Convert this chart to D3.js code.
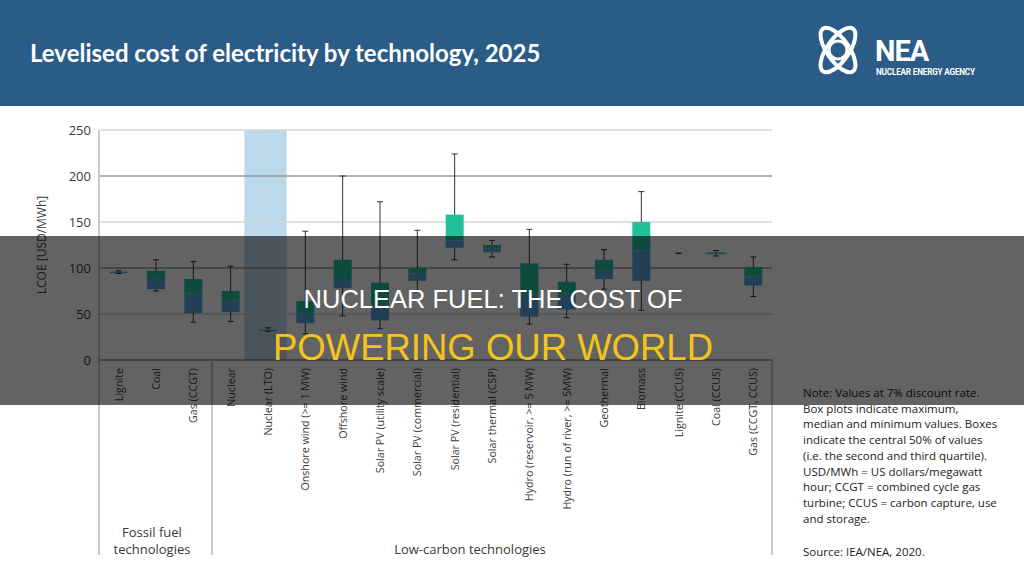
<!DOCTYPE html>
<html>
<head>
<meta charset="utf-8">
<script src="https://cdn.jsdelivr.net/npm/d3@7"></script>
<style>
  body { margin: 0; background: #ffffff; }
  svg { display: block; }
</style>
</head>
<body>
<div id="chart"></div>
<script>
// chart values
var categories = ["Lignite", "Coal", "Gas (CCGT)", "Nuclear", "Nuclear (LTO)",
    "Onshore wind (>= 1 MW)", "Offshore wind", "Solar PV (utility scale)",
    "Solar PV (commercial)", "Solar PV (residential)", "Solar thermal (CSP)",
    "Hydro (reservoir, >= 5 MW)", "Hydro (run of river, >= 5MW)", "Geothermal",
    "Biomass", "Lignite (CCUS)", "Coal (CCUS)", "Gas (CCGT, CCUS)"];

var maxValues    = [97, 109, 107, 102, 35, 140, 200, 172, 141, 224, 130, 142, 104, 120, 183, 116, 119, 112];
var q3Values     = [96, 97, 88, 75, 33, 64, 109, 84, 100, 158, 125, 105, 85, 109, 150, 116, 117, 101];
var medianValues = [95.5, 89, 72, 65, 32.5, 51, 88, 60, 94, 130, 121, 71, 72, 97, 119, 116, 116, 91];
var q1Values     = [95, 77, 51, 52, 32, 40, 78, 43, 86, 122, 117, 47, 55, 88, 86, 116, 115, 81];
var minValues    = [94, 75, 41, 42, 31, 28.5, 48, 34, 74, 109, 112, 39, 46, 77, 54, 116, 113, 69];

var yTicks = [0, 50, 100, 150, 200, 250];
var groups = [
    { name: ["Fossil fuel", "technologies"], first: "Lignite", last: "Gas (CCGT)" },
    { name: ["Low-carbon technologies"], first: "Nuclear", last: "Gas (CCGT, CCUS)" }
];
var highlighted = "Nuclear (LTO)";

var noteLines = ["Note: Values at 7% discount rate.",
    "Box plots indicate maximum,",
    "median and minimum values. Boxes",
    "indicate the central 50% of values",
    "(i.e. the second and third quartile).",
    "USD/MWh = US dollars/megawatt",
    "hour; CCGT = combined cycle gas",
    "turbine; CCUS = carbon capture, use",
    "and storage."];
var sourceLine = "Source: IEA/NEA, 2020.";

var titleText = "Levelised cost of electricity by technology, 2025";
var overlayLine1 = "NUCLEAR FUEL: THE COST OF";
var overlayLine2 = "POWERING OUR WORLD";

// Set SVG dimensions
var svgWidth = 1024;
var svgHeight = 575;

var margin = { top: 130, left: 100, right: 252, bottom: 215 };
var plotRight = svgWidth - margin.right;
var plotBottom = svgHeight - margin.bottom;
var labelBottom = 555;

var bodyFont = "'Open Sans', 'Noto Sans', sans-serif";

var svg = d3.select("#chart")
    .append("svg")
    .attr("width", svgWidth)
    .attr("height", svgHeight);

// header band
svg.append("rect")
    .attr("x", 0).attr("y", 0)
    .attr("width", svgWidth).attr("height", 106)
    .attr("fill", "#2b5b87");

svg.append("text")
    .attr("x", 30).attr("y", 62)
    .attr("font-family", "Lato, sans-serif")
    .attr("font-weight", "bold")
    .attr("font-size", "24px")
    .attr("fill", "#ffffff")
    .text(titleText);

// NEA logo
var logo = svg.append("g").attr("transform", "translate(838, 50)");
[-35, 35].forEach(function(a) {
    logo.append("ellipse")
        .attr("rx", 26).attr("ry", 11)
        .attr("transform", `rotate(${a + 90})`)
        .attr("fill", "none")
        .attr("stroke", "#ffffff")
        .attr("stroke-width", 4);
});
logo.append("circle")
    .attr("r", 9)
    .attr("fill", "none")
    .attr("stroke", "#ffffff")
    .attr("stroke-width", 3);
svg.append("text")
    .attr("x", 875).attr("y", 61)
    .attr("font-family", "Roboto, sans-serif")
    .attr("font-weight", "bold")
    .attr("font-size", "29px")
    .attr("letter-spacing", "-1px")
    .attr("fill", "#ffffff")
    .text("NEA");
svg.append("text")
    .attr("x", 876).attr("y", 75)
    .attr("font-family", "Roboto, sans-serif")
    .attr("font-weight", "bold")
    .attr("font-size", "8.2px")
    .attr("fill", "#ffffff")
    .attr("letter-spacing", "-0.2px")
    .text("NUCLEAR ENERGY AGENCY");

// scales
var xScale = d3.scaleBand()
    .domain(categories)
    .range([margin.left, plotRight])
    .padding(0);

var yScale = d3.scaleLinear()
    .domain([0, 250])
    .range([plotBottom, margin.top]);

var chartGroup = svg.append("g");

// highlighted band for Nuclear (LTO)
chartGroup.append("rect")
    .attr("x", xScale(highlighted) - 5)
    .attr("y", yScale(250))
    .attr("width", xScale.bandwidth() + 5)
    .attr("height", yScale(0) - yScale(250))
    .attr("fill", "#bcd9ec");

// gridlines
chartGroup.selectAll(".grid")
    .data(yTicks.filter(d => d > 0))
    .enter()
    .append("line")
    .attr("class", "grid")
    .attr("x1", margin.left)
    .attr("x2", plotRight)
    .attr("y1", d => yScale(d))
    .attr("y2", d => yScale(d))
    .attr("stroke", d => (d % 100 === 0) ? "#9a9a9a" : "#d4d4d4")
    .attr("stroke-width", 1.5);

// y axis
var yAxis = d3.axisLeft(yScale).tickValues(yTicks).tickSize(0).tickPadding(9);
var yAxisGroup = chartGroup.append("g")
    .attr("transform", `translate(${margin.left}, 0)`)
    .call(yAxis);
yAxisGroup.select(".domain").remove();
yAxisGroup.selectAll("text")
    .attr("font-family", bodyFont)
    .attr("font-size", "13px")
    .attr("fill", "#3a3a3a");

chartGroup.append("text")
    .attr("transform", "rotate(-90)")
    .attr("x", -245)
    .attr("y", 46)
    .attr("text-anchor", "middle")
    .attr("font-family", bodyFont)
    .attr("font-size", "12px")
    .attr("fill", "#3a3a3a")
    .text("LCOE [USD/MWh]");

// frame lines: left axis, zero line, group dividers
chartGroup.append("line")
    .attr("x1", margin.left - 1).attr("x2", margin.left - 1)
    .attr("y1", yScale(250)).attr("y2", labelBottom)
    .attr("stroke", "#c8c8c8").attr("stroke-width", 2);

chartGroup.append("line")
    .attr("x1", margin.left).attr("x2", plotRight)
    .attr("y1", yScale(0)).attr("y2", yScale(0))
    .attr("stroke", "#8a8a8a").attr("stroke-width", 1.5);

chartGroup.selectAll(".divider")
    .data([xScale("Nuclear"), plotRight])
    .enter()
    .append("line")
    .attr("class", "divider")
    .attr("x1", d => d).attr("x2", d => d)
    .attr("y1", yScale(0)).attr("y2", labelBottom)
    .attr("stroke", "#c8c8c8").attr("stroke-width", 2);

// box plots
var boxWidth = 18;
var capWidth = 6;
var boxData = categories.map(function(c, i) {
    return { name: c, min: minValues[i], q1: q1Values[i], med: medianValues[i], q3: q3Values[i], max: maxValues[i] };
});

var boxes = chartGroup.selectAll(".box")
    .data(boxData)
    .enter()
    .append("g")
    .attr("class", "box")
    .attr("transform", d => `translate(${xScale(d.name) + xScale.bandwidth() / 2}, 0)`);

boxes.append("line")
    .attr("x1", 0).attr("x2", 0)
    .attr("y1", d => yScale(d.max))
    .attr("y2", d => yScale(d.min))
    .attr("stroke", "#333333")
    .attr("stroke-width", 1);

boxes.filter(d => d.q3 > d.q1).append("rect")
    .attr("x", -boxWidth / 2)
    .attr("width", boxWidth)
    .attr("y", d => yScale(d.q3))
    .attr("height", d => Math.max(1, yScale(d.med) - yScale(d.q3)))
    .attr("fill", "#22c09c");

boxes.filter(d => d.q3 > d.q1).append("rect")
    .attr("x", -boxWidth / 2)
    .attr("width", boxWidth)
    .attr("y", d => yScale(d.med))
    .attr("height", d => Math.max(1, yScale(d.q1) - yScale(d.med)))
    .attr("fill", "#57a6dc");

boxes.selectAll(".cap")
    .data(d => [d.max, d.min])
    .enter()
    .append("line")
    .attr("class", "cap")
    .attr("x1", -capWidth / 2).attr("x2", capWidth / 2)
    .attr("y1", d => yScale(d)).attr("y2", d => yScale(d))
    .attr("stroke", "#333333")
    .attr("stroke-width", 1);

// category labels
chartGroup.selectAll(".catLabel")
    .data(categories)
    .enter()
    .append("text")
    .attr("class", "catLabel")
    .attr("transform", d => `translate(${xScale(d) + xScale.bandwidth() / 2 + 4}, 368) rotate(-90)`)
    .attr("text-anchor", "end")
    .attr("font-family", bodyFont)
    .attr("font-size", "10.7px")
    .attr("fill", "#3a3a3a")
    .text(d => d);

// group labels
chartGroup.append("text")
    .attr("x", 152)
    .attr("text-anchor", "middle")
    .attr("font-family", bodyFont)
    .attr("font-size", "13px")
    .attr("fill", "#3a3a3a")
    .selectAll("tspan")
    .data(groups[0].name)
    .enter()
    .append("tspan")
    .attr("x", 152)
    .attr("y", (d, i) => 537 + i * 17)
    .text(d => d);

chartGroup.append("text")
    .attr("x", 470)
    .attr("y", 554)
    .attr("text-anchor", "middle")
    .attr("font-family", bodyFont)
    .attr("font-size", "13px")
    .attr("fill", "#3a3a3a")
    .text(groups[1].name[0]);

// notes
var notes = svg.append("text")
    .attr("font-family", bodyFont)
    .attr("font-size", "11.5px")
    .attr("fill", "#222222");
notes.selectAll("tspan")
    .data(noteLines)
    .enter()
    .append("tspan")
    .attr("x", 803)
    .attr("y", (d, i) => 397 + i * 15.7)
    .text(d => d);

svg.append("text")
    .attr("x", 803).attr("y", 556)
    .attr("font-family", bodyFont)
    .attr("font-size", "11.5px")
    .attr("fill", "#222222")
    .text(sourceLine);

// dark banner on top
svg.append("rect")
    .attr("x", 0).attr("y", 236)
    .attr("width", svgWidth).attr("height", 169)
    .attr("fill", "#000000")
    .attr("opacity", 0.61);

svg.append("text")
    .attr("x", 493).attr("y", 308)
    .attr("text-anchor", "middle")
    .attr("font-family", "'Liberation Sans', Arial, sans-serif")
    .attr("font-size", "25.5px")
    .attr("fill", "#ffffff")
    .text(overlayLine1);

svg.append("text")
    .attr("x", 493).attr("y", 360)
    .attr("text-anchor", "middle")
    .attr("font-family", "'Liberation Sans', Arial, sans-serif")
    .attr("font-size", "36.5px")
    .attr("fill", "#f4c41c")
    .text(overlayLine2);
</script>
</body>
</html>
